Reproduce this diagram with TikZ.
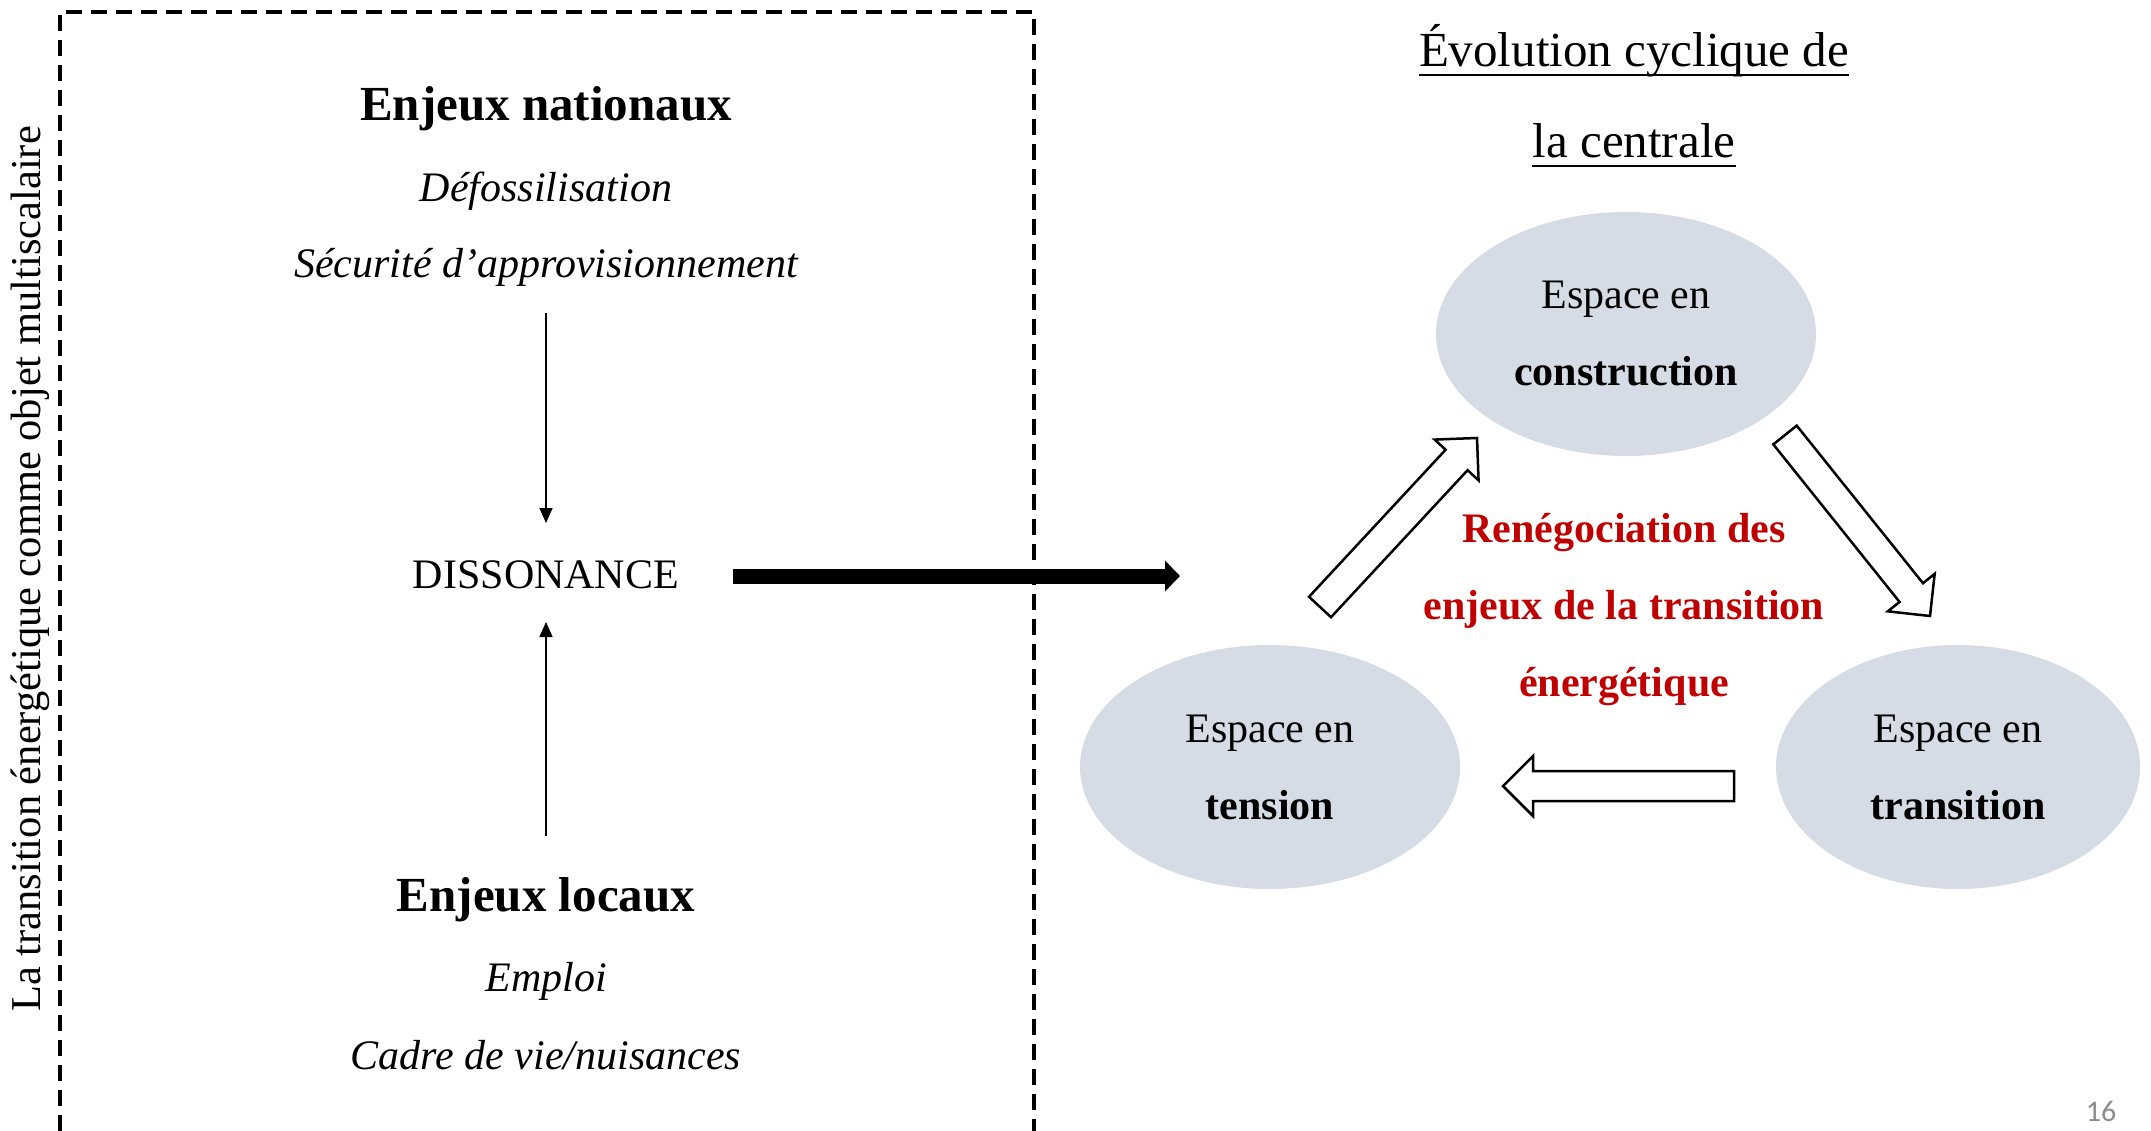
\documentclass[tikz,border=0pt]{standalone}
\usepackage{fontspec}
\setmainfont{Liberation Serif}
\newfontfamily\slidefont{Carlito}
\usepackage{tikz}
\usetikzlibrary{shapes.geometric, arrows.meta, calc}
\definecolor{espacebleu}{HTML}{D6DCE5}
\definecolor{rouge}{HTML}{C00000}
\definecolor{numgris}{HTML}{8C8C8C}

% hollow block arrow from #1 to #2
\newcommand{\blockarrow}[2]{%
    \coordinate (ba) at ($(#2)!30pt!(#1)$);
    \draw[hollow] ($(#1)!15pt!90:(#2)$) -- ($(ba)!15pt!-90:(#1)$) -- ($(ba)!30pt!-90:(#1)$) -- (#2)
        -- ($(ba)!30pt!90:(#1)$) -- ($(ba)!15pt!90:(#1)$) -- ($(#1)!15pt!-90:(#2)$) -- cycle;
}

\begin{document}
\begin{tikzpicture}[x=1pt, y=-1pt,
    txt/.style = {inner sep=0pt, font=\fontsize{42}{50}\selectfont},
    titre/.style = {inner sep=0pt, font=\fontsize{49}{59}\selectfont\bfseries},
    espace/.style = {ellipse, fill=espacebleu, inner sep=0pt, align=center,
        minimum width=380pt, minimum height=244pt, font=\fontsize{42}{77}\selectfont},
    fine/.style = {line width=1.5pt, -{Triangle[length=15pt, width=13pt]}},
    grosse/.style = {line width=15pt, -{Triangle[length=15pt, width=30pt]}},
    hollow/.style = {draw=black, fill=white, line width=2.5pt, line join=miter},
    cadre/.style = {line width=3.5pt, dash pattern=on 16pt off 9pt}]

    \useasboundingbox (0,0) rectangle (2151,1131);

    %% left part
    \draw[cadre] (60,1131) -- (60,12) -- (1034,12) -- (1034,1131);
    \node[txt, rotate=90, font=\fontsize{42.5}{50}\selectfont] (axe) at (30,569)
        {La transition énergétique comme objet multiscalaire};

    \node[titre] (natl) at (546,109) {Enjeux nationaux};
    \node[txt, font=\fontsize{42}{50}\selectfont\itshape] (defoss) at (546,191) {Défossilisation};
    \node[txt, font=\fontsize{42}{50}\selectfont\itshape] (secu) at (546,267) {Sécurité d’approvisionnement};

    \node[txt] (diss) at (546,575) {DISSONANCE};

    \node[titre] (local) at (546,900) {Enjeux locaux};
    \node[txt, font=\fontsize{42}{50}\selectfont\itshape] (emploi) at (546,981) {Emploi};
    \node[txt, font=\fontsize{42}{50}\selectfont\itshape] (vie) at (546,1055) {Cadre de vie/nuisances};

    \draw[fine, shorten <=46pt, shorten >=52pt] (secu.center) -- (diss.center);
    \draw[fine, shorten <=64pt, shorten >=47pt] (local.center) -- (diss.center);

    \coordinate (cible) at (1180,576);
    \draw[grosse, shorten <=54pt] (diss.east |- cible) -- (cible);

    %% right part
    \node[inner sep=0pt, anchor=base, font=\fontsize{49}{59}\selectfont] (titre1) at (1634,67)
        {Évolution cyclique de};
    \node[inner sep=0pt, anchor=base, font=\fontsize{49}{59}\selectfont] (titre2) at (1634,158)
        {la centrale};
    \draw[line width=2pt] ([yshift=-8pt]titre1.base west) -- ([yshift=-8pt]titre1.base east);
    \draw[line width=2pt] ([yshift=-8pt]titre2.base west) -- ([yshift=-8pt]titre2.base east);

    \node[espace] (construction) at (1626,334) {Espace en\\\textbf{construction}};
    \node[espace] (tension) at (1270,767) {Espace en\\\textbf{tension}};
    \node[espace, minimum width=364pt] (transition) at (1958,767) {Espace en\\\textbf{transition}};

    \node[txt, align=center, text=rouge, font=\fontsize{42}{77}\selectfont\bfseries] (renego) at (1624,610)
        {Renégociation des\\enjeux de la transition\\énergétique};

    \coordinate (montee) at (1320,607);
    \coordinate (montee2) at (1477,438);
    \coordinate (descente) at (1785,435);
    \coordinate (descente2) at (1930,616);
    \coordinate (retour) at (1734,786);
    \coordinate (retour2) at (1503,786);
    \blockarrow{montee}{montee2}
    \blockarrow{descente}{descente2}
    \blockarrow{retour}{retour2}

    \node[inner sep=0pt, text=numgris, font=\slidefont\fontsize{30}{36}\selectfont] (page) at (2101,1111) {16};

\end{tikzpicture}
\end{document}
